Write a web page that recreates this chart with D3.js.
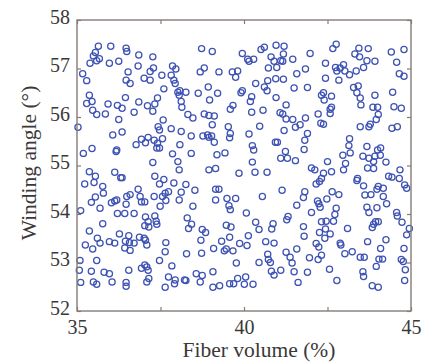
<!DOCTYPE html>
<html>
<head>
<meta charset="utf-8">
<script src="https://cdn.jsdelivr.net/npm/d3@7"></script>
<style>
  html, body { margin: 0; padding: 0; background: #fff; }
  svg { display: block; }
</style>
</head>
<body>
<svg id="chart" width="422" height="363"></svg>
<script>
// axis setup
var xDomain = [35, 45],
    yDomain = [52, 58];

var xTicks = [35, 37.5, 40, 42.5, 45],
    xTickLabels = [35, 40, 45],
    yTicks = [52, 53, 54, 55, 56, 57, 58];

var xTitle = "Fiber volume (%)",
    yTitle = "Winding angle (\u00b0)";

// samples: [fiber volume, winding angle]
var samplesTopLeft = [
  [35.64,57.46],[36.01,57.46],[36.47,57.42],[36.49,57.35],[35.55,57.33],[35.49,57.26],
  [35.67,57.20],[35.59,57.16],[35.39,57.11],[35.97,57.11],[36.25,57.15],[36.85,57.28],
  [37.27,57.24],[36.83,57.05],[37.29,57.01],[37.19,56.94],[36.53,56.93],[37.86,57.05],
  [37.96,56.99],[35.17,56.89],[35.29,56.75],[36.47,56.76],[36.59,56.69],[37.01,56.80],
  [37.19,56.76],[37.54,56.86],[37.82,56.86],[37.90,56.76],[37.94,56.69],[37.60,56.58],
  [38.02,56.51],[38.08,56.54],[38.26,56.51],[38.06,56.45],[35.37,56.45],[35.45,56.32],
  [35.29,56.28],[35.93,56.27],[36.21,56.24],[36.45,56.40],[36.85,56.31],[37.11,56.23],
  [37.33,56.27],[37.41,56.39],[35.47,56.14],[35.59,56.05],[35.85,56.06],[36.35,56.18],
  [36.71,56.10],[37.27,56.12],[38.12,56.32],[38.14,56.20],[38.32,56.05],[36.25,55.95],
  [37.58,55.94],[35.03,55.79],[37.43,55.80],[37.47,55.73],[37.82,55.76],[38.12,55.70],
  [36.07,55.63],[36.35,55.69],[36.93,55.54],[37.13,55.58],[37.31,55.52],[37.56,55.55],
  [38.42,55.61],[36.77,55.43],[37.05,55.47],[37.41,55.46],[37.39,55.36],[37.47,55.36],
  [38.08,55.43],[35.19,55.25],[35.45,55.35],[36.19,55.32],[36.17,55.29],[37.86,55.24],
  [37.27,55.06],[38.02,55.08],[38.42,55.25]
];

var samplesTopMiddle = [
  [38.73,57.41],[39.05,57.35],[39.95,57.31],[40.51,57.39],[40.61,57.44],[40.96,57.48],
  [41.20,57.46],[41.18,57.30],[40.81,57.24],[40.11,57.19],[40.15,57.15],[40.29,57.19],
  [40.90,57.15],[41.10,57.16],[41.16,57.15],[41.46,57.19],[40.73,57.01],[40.98,57.02],
  [38.81,57.01],[38.69,56.93],[39.25,56.93],[39.65,56.93],[39.81,56.95],[39.75,56.82],
  [41.58,56.89],[40.35,56.69],[40.71,56.75],[40.95,56.79],[41.18,56.78],[40.61,56.62],
  [40.69,56.54],[41.50,56.60],[38.93,56.62],[38.63,56.49],[38.97,56.35],[39.21,56.49],
  [39.95,56.54],[39.91,56.50],[40.23,56.42],[40.19,56.32],[40.96,56.40],[41.26,56.25],
  [39.67,56.24],[39.59,56.16],[40.23,56.10],[40.57,56.14],[41.08,56.09],[41.16,56.06],
  [38.47,55.98],[38.81,56.06],[38.95,56.03],[39.11,56.02],[39.05,55.84],[39.53,55.80],
  [40.47,55.81],[41.26,55.96],[41.46,55.95],[41.54,55.79],[41.68,55.84],[41.20,55.72],
  [39.59,55.66],[39.57,55.57],[40.15,55.65],[38.77,55.61],[38.91,55.63],[38.95,55.58],
  [39.03,55.61],[39.11,55.48],[40.25,55.41],[40.29,55.32],[40.94,55.48],[41.00,55.48],
  [39.19,55.22],[39.43,55.26],[41.24,55.29],[41.10,55.15],[41.30,55.15],[41.54,55.10],
  [40.25,55.07]
];

var samplesTopRight = [
  [41.98,57.31],[42.66,57.41],[42.76,57.50],[43.44,57.42],[43.72,57.41],[43.32,57.30],
  [43.46,57.24],[44.41,57.34],[44.79,57.39],[44.57,57.13],[43.68,57.16],[43.92,57.15],
  [42.44,57.11],[42.74,57.02],[42.78,56.95],[42.98,57.08],[42.88,57.01],[43.02,56.95],
  [43.16,56.87],[43.36,56.95],[43.58,57.02],[41.84,56.99],[44.65,56.89],[44.79,56.84],
  [42.44,56.80],[42.84,56.76],[43.28,56.61],[43.42,56.64],[43.38,56.50],[43.48,56.39],
  [43.50,56.25],[43.92,56.45],[44.45,56.51],[41.90,56.61],[42.38,56.50],[42.32,56.45],
  [42.40,56.35],[42.62,56.43],[42.62,56.20],[42.58,56.16],[42.58,56.07],[43.86,56.20],
  [44.00,56.20],[44.02,56.05],[43.96,55.95],[44.49,56.21],[44.71,56.18],[42.22,56.06],
  [42.30,55.87],[42.38,55.85],[41.84,55.98],[43.48,55.80],[43.78,55.85],[43.74,55.80],
  [44.43,55.77],[44.59,55.80],[41.90,55.66],[41.82,55.52],[41.80,55.33],[43.16,55.55],
  [43.14,55.41],[43.18,55.26],[42.96,55.21],[43.56,55.19],[43.68,55.39],[44.00,55.32],
  [44.09,55.36],[43.92,55.19],[44.08,55.21],[44.25,55.07],[43.88,55.08],[43.74,55.15],
  [42.50,55.08],[43.04,55.04]
];

var samplesBottomLeft = [
  [35.37,54.87],[35.55,54.78],[35.23,54.62],[35.51,54.65],[36.13,54.86],[36.31,54.75],
  [36.35,54.75],[37.33,54.78],[37.60,54.71],[37.47,54.62],[37.90,54.64],[38.06,54.91],
  [38.26,54.61],[35.77,54.57],[35.79,54.43],[36.83,54.51],[35.55,54.35],[35.43,54.24],
  [35.69,54.12],[36.03,54.23],[36.13,54.27],[36.19,54.29],[36.49,54.36],[36.59,54.40],
  [36.47,54.20],[36.89,54.36],[36.93,54.25],[37.03,54.25],[37.31,54.36],[37.56,54.36],
  [37.64,54.43],[37.74,54.46],[37.49,54.16],[37.66,54.28],[38.06,54.29],[38.12,54.45],
  [35.11,54.07],[36.21,54.01],[36.43,54.01],[36.71,54.01],[37.05,53.94],[37.33,53.96],
  [37.13,53.84],[37.03,53.76],[37.15,53.73],[37.37,53.85],[37.39,53.79],[35.77,53.80],
  [38.30,53.92],[38.34,53.70],[35.37,53.65],[35.61,53.50],[35.69,53.40],[35.25,53.36],
  [35.47,53.28],[35.97,53.43],[36.13,53.40],[36.27,53.59],[36.55,53.55],[36.45,53.44],
  [36.57,53.41],[36.71,53.40],[36.87,53.52],[37.01,53.50],[37.05,53.46],[37.09,53.36],
  [36.43,53.30],[36.59,53.25],[37.66,53.41],[37.64,53.22],[38.28,53.18],[35.59,53.04],
  [35.09,53.04],[35.07,52.84],[35.43,52.82],[35.81,52.80],[35.97,52.77],[36.55,52.84],
  [36.93,52.88],[37.03,52.95],[37.09,52.91],[37.13,52.84],[37.47,53.04],[37.84,52.93],
  [35.11,52.59],[35.49,52.60],[35.59,52.55],[36.05,52.60],[36.47,52.59],[36.47,52.51],
  [37.09,52.60],[37.15,52.67],[37.74,52.70],[37.94,52.64],[37.92,52.56],[38.22,52.64],
  [38.26,52.63],[37.64,52.49]
];

var samplesBottomMiddle = [
  [38.95,54.91],[39.15,54.94],[39.85,54.84],[40.33,54.86],[40.69,54.86],[38.53,54.49],
  [39.15,54.51],[39.25,54.51],[39.15,54.29],[39.49,54.32],[39.75,54.32],[39.55,54.17],
  [39.59,54.09],[40.55,54.36],[41.14,54.49],[38.47,54.16],[40.07,54.02],[38.43,53.79],
  [38.75,53.68],[38.85,53.62],[38.71,53.46],[39.47,53.77],[39.61,53.73],[39.57,53.52],
  [39.33,53.44],[39.41,53.24],[39.47,53.28],[39.67,53.24],[39.09,53.29],[38.73,53.19],
  [39.87,53.39],[40.09,53.35],[40.13,53.55],[40.35,53.83],[40.45,53.68],[40.83,53.69],
  [40.87,53.80],[40.65,53.43],[40.90,53.40],[41.26,53.21],[41.32,53.95],[41.28,53.88],
  [41.58,54.18],[41.58,53.28],[39.77,52.99],[40.45,53.00],[40.71,53.17],[40.73,53.06],
  [40.79,53.00],[40.82,52.82],[40.90,52.74],[41.10,52.84],[39.07,52.81],[38.57,52.77],
  [38.75,52.73],[38.69,52.60],[39.07,52.49],[39.27,52.52],[39.57,52.56],[39.69,52.56],
  [39.81,52.67],[40.05,52.70],[40.01,52.55],[40.27,52.55],[41.38,53.11],[41.44,52.99],
  [41.50,52.81],[41.62,52.59]
];

var samplesBottomRight = [
  [42.02,54.95],[42.12,54.91],[42.98,54.91],[43.70,54.95],[43.88,54.94],[44.67,54.91],
  [44.33,54.78],[44.43,54.76],[44.65,54.73],[44.81,54.60],[44.87,54.53],[42.62,54.87],
  [42.38,54.84],[42.32,54.73],[42.26,54.67],[42.16,54.62],[43.40,54.73],[43.38,54.69],
  [43.58,54.58],[43.80,54.40],[43.62,54.39],[44.02,54.57],[44.17,54.53],[43.98,54.51],
  [44.17,54.36],[44.27,54.21],[41.82,54.46],[41.78,54.34],[42.64,54.46],[42.84,54.40],
  [42.48,54.31],[42.20,54.27],[42.24,54.21],[42.28,54.14],[42.02,54.03],[42.76,54.12],
  [42.72,53.99],[42.68,53.85],[43.68,54.14],[43.74,54.03],[43.98,54.13],[44.57,54.03],
  [44.59,53.96],[44.73,53.83],[44.95,53.70],[44.87,53.57],[43.94,53.84],[44.02,53.84],
  [43.84,53.72],[43.88,53.79],[41.78,53.74],[41.80,53.54],[42.32,53.84],[42.46,53.85],
  [42.44,53.69],[42.26,53.62],[42.58,53.59],[42.42,53.50],[43.10,53.70],[43.70,53.43],
  [44.25,53.47],[42.16,53.39],[42.24,53.32],[42.32,53.15],[42.22,53.06],[41.96,53.10],
  [42.88,53.40],[42.90,53.36],[43.02,53.18],[43.24,53.22],[43.48,53.11],[43.60,53.11],
  [44.04,53.07],[44.15,53.07],[44.09,53.29],[44.79,53.29],[44.71,53.06],[44.77,53.02],
  [44.83,52.85],[44.81,52.63],[42.56,52.86],[41.90,52.80],[42.78,52.63],[43.56,52.81],
  [43.58,52.71],[43.96,52.92],[43.84,52.52],[44.02,52.49]
];

var samples = [].concat(samplesTopLeft, samplesTopMiddle, samplesTopRight,
                        samplesBottomLeft, samplesBottomMiddle, samplesBottomRight);

//------------------------------------------------------------------------------
// layout
//------------------------------------------------------------------------------
var margin = {top: 20, right: 11, bottom: 52, left: 77},
    width = 422 - margin.left - margin.right,
    height = 363 - margin.top - margin.bottom;

var frameColor = "#857c77",
    textColor = "#3b3838",
    markColor = "#3d52b3",
    font = "'Liberation Serif', 'Times New Roman', serif";

var svg = d3.select("#chart");

var g = svg.append("g")
    .attr("transform", "translate(" + margin.left + "," + margin.top + ")");

var x = d3.scaleLinear().domain(xDomain).range([0, width]),
    y = d3.scaleLinear().domain(yDomain).range([height, 0]);

//------------------------------------------------------------------------------
// points
//------------------------------------------------------------------------------
g.append("g")
    .selectAll("circle")
    .data(samples)
    .enter().append("circle")
    .attr("cx", function(d) { return x(d[0]); })
    .attr("cy", function(d) { return y(d[1]); })
    .attr("r", 3.1)
    .attr("fill", "none")
    .attr("stroke", markColor)
    .attr("stroke-width", 1.25);

//------------------------------------------------------------------------------
// axes, ticks inward on all four sides (box on)
//------------------------------------------------------------------------------
function styleAxis(sel) {
    sel.select(".domain").remove();
    sel.selectAll(".tick line")
        .attr("stroke", frameColor)
        .attr("stroke-width", 1.2);
    sel.selectAll(".tick text")
        .attr("fill", textColor)
        .style("font-family", font)
        .style("font-size", "20px");
}

var xLabel = function(d) { return xTickLabels.indexOf(d) >= 0 ? d : ""; };

g.append("g")
    .attr("transform", "translate(0," + height + ")")
    .call(d3.axisBottom(x).tickValues(xTicks).tickSize(-4).tickPadding(9).tickFormat(xLabel))
    .call(styleAxis);

g.append("g")
    .call(d3.axisTop(x).tickValues(xTicks).tickSize(-4).tickFormat(""))
    .call(styleAxis);

g.append("g")
    .call(d3.axisLeft(y).tickValues(yTicks).tickSize(-4).tickPadding(7).tickFormat(d3.format("d")))
    .call(styleAxis)
    .selectAll(".tick text")
    .attr("dy", "0.15em");

g.append("g")
    .attr("transform", "translate(" + width + ",0)")
    .call(d3.axisRight(y).tickValues(yTicks).tickSize(-4).tickFormat(""))
    .call(styleAxis);

g.append("rect")
    .attr("x", 0)
    .attr("y", 0)
    .attr("width", width)
    .attr("height", height)
    .attr("fill", "none")
    .attr("stroke", frameColor)
    .attr("stroke-width", 1.4);

//------------------------------------------------------------------------------
// titles
//------------------------------------------------------------------------------
svg.append("text")
    .attr("x", 259)
    .attr("y", 357)
    .attr("text-anchor", "middle")
    .attr("fill", textColor)
    .style("font-family", font)
    .style("font-size", "21.5px")
    .text(xTitle);

svg.append("text")
    .attr("transform", "translate(36,163) rotate(-90)")
    .attr("text-anchor", "middle")
    .attr("fill", textColor)
    .style("font-family", font)
    .style("font-size", "21.5px")
    .text(yTitle);
</script>
</body>
</html>
